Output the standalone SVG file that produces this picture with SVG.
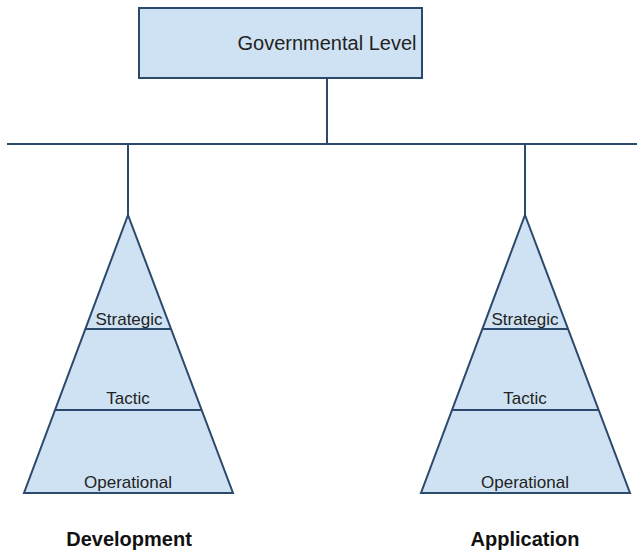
<svg xmlns="http://www.w3.org/2000/svg" width="637" height="552" viewBox="0 0 637 552">
<style>
.shape{fill:#cfe2f3;stroke:#2b4a6b;stroke-width:2;stroke-linejoin:miter}
.conn{stroke:#2b4a6b;stroke-width:2;fill:none}
.sep{stroke:#2b4a6b;stroke-width:2}
.lbl{font-family:"Liberation Sans",Arial,sans-serif;font-size:17px;fill:#222;text-anchor:middle}
.title{font-family:"Liberation Sans",Arial,sans-serif;font-size:20px;fill:#222;text-anchor:middle}
.cap{font-family:"Liberation Sans",Arial,sans-serif;font-size:20px;font-weight:bold;fill:#111;text-anchor:middle}
</style>
<rect width="637" height="552" fill="#ffffff"/>
<g id="connectors">
<line class="conn" x1="327" y1="78" x2="327" y2="144"/>
<line class="conn" x1="7" y1="144" x2="637" y2="144"/>
<line class="conn" x1="128" y1="144" x2="128" y2="215"/>
<line class="conn" x1="525" y1="144" x2="525" y2="215"/>
</g>
<g id="governmental">
<rect class="shape" x="139" y="8" width="283" height="70"/>
<text class="title" x="327" y="50">Governmental Level</text>
</g>
<g id="development">
<polygon class="shape" points="128,215 233,493 24,493"/>
<line class="sep" x1="85" y1="329" x2="171" y2="329"/>
<line class="sep" x1="55" y1="410" x2="201" y2="410"/>
<text class="lbl" x="129" y="325">Strategic</text>
<text class="lbl" x="128" y="404">Tactic</text>
<text class="lbl" x="128" y="488">Operational</text>
<text class="cap" x="129" y="546">Development</text>
</g>
<g id="application">
<polygon class="shape" points="525,215 630,493 421,493"/>
<line class="sep" x1="482" y1="329" x2="568" y2="329"/>
<line class="sep" x1="452" y1="410" x2="598" y2="410"/>
<text class="lbl" x="525" y="325">Strategic</text>
<text class="lbl" x="525" y="404">Tactic</text>
<text class="lbl" x="525" y="488">Operational</text>
<text class="cap" x="525" y="546">Application</text>
</g>
</svg>
